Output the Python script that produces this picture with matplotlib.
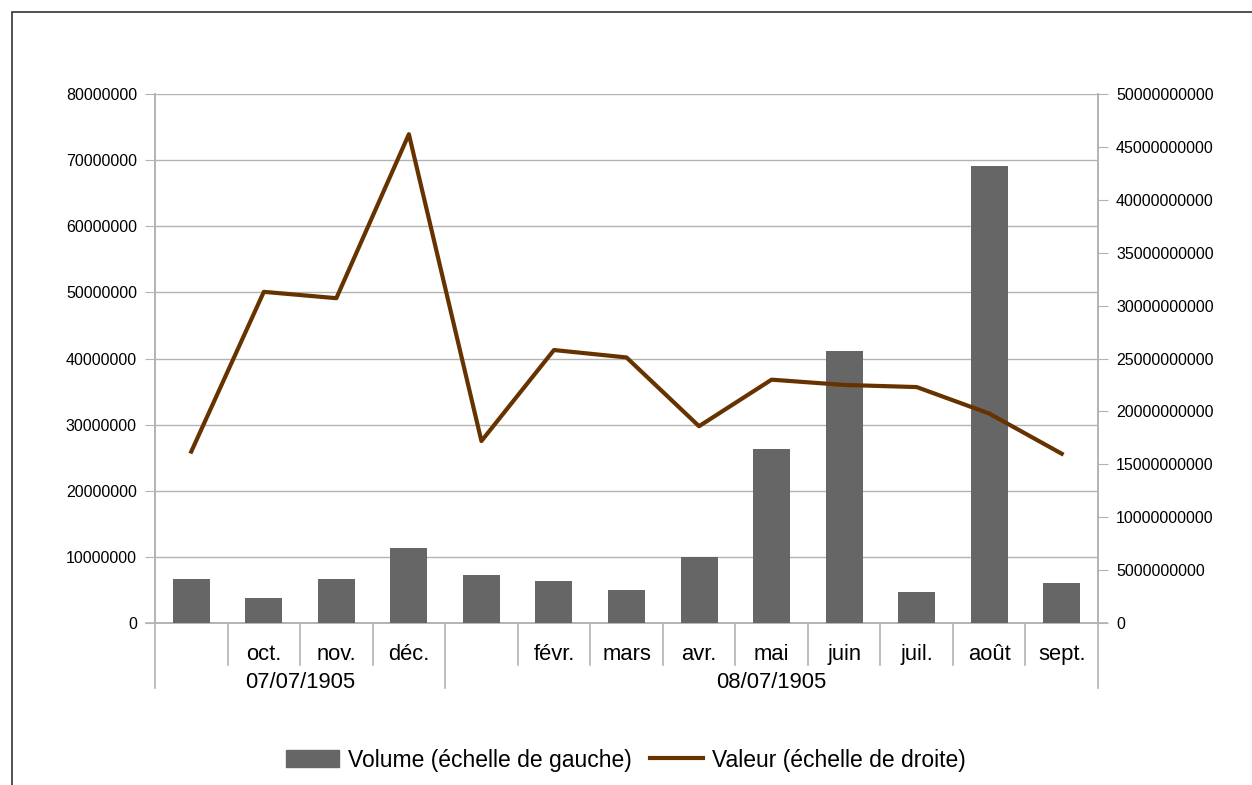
import numpy as np
import matplotlib.pyplot as plt
from matplotlib.patches import Rectangle, Patch
from matplotlib.lines import Line2D

plt.rcParams['font.family'] = ['Liberation Sans', 'DejaVu Sans']

# Données
mois = ['', 'oct.', 'nov.', 'déc.', '', 'févr.', 'mars', 'avr.', 'mai', 'juin', 'juil.', 'août', 'sept.']
groupes = ['07/07/1905', '08/07/1905']
taille_groupes = [4, 9]
volume = [6.7e6, 3.8e6, 6.65e6, 11.35e6, 7.25e6, 6.35e6, 5.0e6, 10.0e6, 26.3e6, 41.1e6, 4.7e6, 69.1e6, 6.05e6]
valeur = [16.2e9, 31.3e9, 30.7e9, 46.2e9, 17.2e9, 25.8e9, 25.1e9, 18.6e9, 23.0e9, 22.5e9, 22.3e9, 19.8e9, 16.0e9]

gris = '#b3b3b3'
couleur_barre = '#666666'
couleur_ligne = '#663300'

fig = plt.figure(figsize=(12.52, 7.85), dpi=100)
ax = fig.add_axes([155 / 1252, 1 - 623 / 785, (1098 - 155) / 1252, (623 - 94) / 785])
ax2 = ax.twinx()

x = np.arange(len(mois))
ax.bar(x, volume, width=0.51, color=couleur_barre, zorder=3)
ax2.plot(x, valeur, color=couleur_ligne, lw=3, zorder=4)

ax.set_xlim(-0.5, len(mois) - 0.5)
ax.set_ylim(0, 80e6)
ax.set_yticks(np.arange(0, 80e6 + 1, 10e6))
ax.yaxis.set_major_formatter(plt.FuncFormatter(lambda v, p: '%d' % v))
ax2.set_ylim(0, 50e9)
ax2.set_yticks(np.arange(0, 50e9 + 1, 5e9))
ax2.yaxis.set_major_formatter(plt.FuncFormatter(lambda v, p: '%d' % v))

ax.grid(axis='y', color=gris, lw=1, zorder=0)
ax.set_axisbelow(True)

for a in (ax, ax2):
    a.spines['top'].set_visible(False)
    for s in ('left', 'right', 'bottom'):
        a.spines[s].set_color(gris)
        a.spines[s].set_linewidth(1.2)
ax2.spines['bottom'].set_visible(False)

ax.tick_params(axis='y', length=7, color=gris, labelsize=11.5, pad=6)
ax2.tick_params(axis='y', length=7, color=gris, labelsize=11.5, pad=6)

ax.set_xticks(x)
ax.set_xticklabels(mois, fontsize=15.8)
ax.tick_params(axis='x', length=0, pad=15)

# séparateurs de catégories et de groupes
trans = ax.get_xaxis_transform()
limites = np.cumsum([0] + taille_groupes) - 0.5
for k in range(len(mois) + 1):
    pos = k - 0.5
    bas = -0.123 if pos in limites else -0.079
    ax.plot([pos, pos], [0, bas], color=gris, lw=1.2, transform=trans, clip_on=False)
ax.plot([-0.62, len(mois) - 0.38], [0, 0], color=gris, lw=1.2, transform=trans, clip_on=False)

for i, g in enumerate(groupes):
    centre = (limites[i] + limites[i + 1]) / 2
    ax.text(centre, -0.112, g, transform=trans, ha='center', va='center', fontsize=15.8)

# légende
poignees = [Patch(color=couleur_barre), Line2D([0], [0], color=couleur_ligne, lw=3)]
fig.legend(poignees, ['Volume (échelle de gauche)', 'Valeur (échelle de droite)'],
           loc='center', bbox_to_anchor=(0.5, 25 / 785), ncol=2, frameon=False,
           fontsize=16.5, handlelength=2.3, handleheight=0.75, columnspacing=0.8, handletextpad=0.4)

# cadre
fig.patches.append(Rectangle((12 / 1252, -0.1), 1.1, 1.1 - 12 / 785, transform=fig.transFigure,
                             fill=False, edgecolor='#333333', lw=1.2))

fig.savefig('out.png', dpi=100)
